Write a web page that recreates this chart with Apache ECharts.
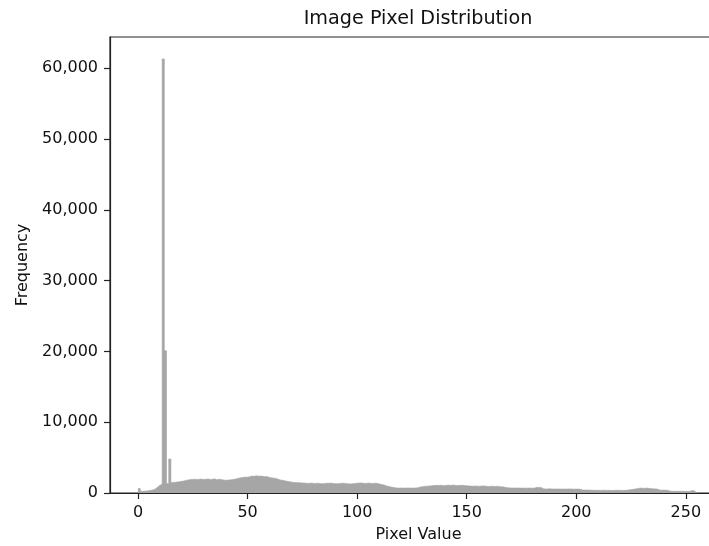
<!DOCTYPE html>
<html>
<head>
<meta charset="utf-8">
<script src="https://cdn.jsdelivr.net/npm/echarts@6/dist/echarts.min.js"></script>
<style>
html,body{margin:0;padding:0;background:#fff;}
#chart{width:709px;height:546px;}
</style>
</head>
<body>
<div id="chart"></div>
<script>
// Histogram bins: bin i covers pixel values [i, i+1)
var binStarts = [];
for (var b = 0; b < 256; b++) binStarts.push(b);

var frequency = [
  620, 250, 260, 300, 320, 380, 450, 600, 850, 1100, 1250,
  61300, 20100, 1350, 4800,
  1500, 1520, 1560, 1600, 1650, 1700,
  1800, 1850, 1900, 1920, 1950, 1900, 1950, 1970, 1900, 1940,
  1980, 1900, 1950, 2000, 1880, 1950, 1900, 1850, 1800, 1820,
  1850, 1900, 1950, 2000, 2100, 2150, 2200, 2250, 2230,
  2300, 2400, 2350, 2450, 2380, 2400, 2350, 2300, 2320,
  2200, 2150, 2100, 2050,
  1950, 1850, 1800, 1720, 1650, 1600,
  1550, 1500, 1480, 1460, 1450, 1420, 1400,
  1380, 1350, 1400, 1360, 1330, 1380, 1350, 1300, 1340, 1380, 1360, 1400, 1350, 1330,
  1300, 1350, 1380, 1360, 1340, 1300, 1280, 1320, 1350, 1380, 1400, 1420, 1380, 1350,
  1400, 1380, 1350, 1380, 1360, 1300,
  1200, 1150, 1050,
  950, 880, 820, 760,
  720, 700, 710, 690, 700, 720, 700, 690, 710, 720,
  780, 850, 900, 940, 960, 990, 1020,
  1050, 1080, 1060, 1100, 1070, 1050, 1090, 1100, 1080, 1120, 1060, 1050, 1080, 1100, 1050, 1030, 1000,
  980, 960, 1000, 970, 950, 1000, 980, 950, 930, 960, 940, 920, 950, 900, 880, 850,
  760, 740, 720, 710, 720, 700, 710, 690, 700, 680, 700, 690, 680, 700,
  800, 780, 760,
  600, 580, 570, 590, 560, 570, 580, 560, 570, 550, 560, 570, 580, 560, 540, 550, 560, 520,
  430, 420, 410, 420, 400, 380, 390, 380, 370, 380, 390, 370, 380, 360, 370, 380, 390, 380, 370, 380, 400, 420,
  480, 520, 580, 620, 680, 700, 650, 700, 660, 620, 600, 580, 560,
  420, 400, 410, 390, 380,
  260, 250, 240, 250, 230, 240, 250, 240, 230, 240,
  350, 300,
  40, 0
];

var xTicks = [0, 50, 100, 150, 200, 250];
var yTicks = [0, 10000, 20000, 30000, 40000, 50000, 60000];

var chartTitle = 'Image Pixel Distribution';
var xName = 'Pixel Value';
var yName = 'Frequency';

// step outline: each bin drawn flat from its start to the next bin start
var seriesData = binStarts.map(function (s, i) { return [s, frequency[i]]; });
seriesData.push([256, 0]);

function fmt(v) {
  return String(Math.round(v)).replace(/\B(?=(\d{3})+(?!\d))/g, ',');
}

var font = 'DejaVu Sans';
var txt = '#111';
var axisCol = '#222';
var chart = echarts.init(document.getElementById('chart'), null, {renderer: 'canvas'});
chart.setOption({
  animation: false,
  backgroundColor: '#ffffff',
  grid: {
    left: 110, top: 37, width: 617, height: 456,
    show: true, borderColor: axisCol, borderWidth: 1.2,
    containLabel: false, outerBoundsMode: 'none'
  },
  graphic: [{
    type: 'text',
    x: 418, y: 19,
    style: {
      text: chartTitle, fill: txt, font: '19.2px "DejaVu Sans"',
      textAlign: 'center', textVerticalAlign: 'middle'
    }
  }],
  xAxis: {
    type: 'value', min: -12.8, max: 268.8,
    name: xName, nameLocation: 'middle', nameGap: 34,
    nameTextStyle: {fontFamily: font, fontSize: 16, color: txt},
    splitLine: {show: false},
    axisLine: {show: true, onZero: false, lineStyle: {color: axisCol, width: 1.2}},
    axisTick: {show: true, length: 6, customValues: xTicks, lineStyle: {color: axisCol, width: 1.2}},
    axisLabel: {customValues: xTicks, margin: 12, fontFamily: font, fontSize: 16, color: txt,
      formatter: function (v) { return String(v); }}
  },
  yAxis: {
    type: 'value', min: 0, max: 64400,
    name: yName, nameLocation: 'middle', nameGap: 78, nameRotate: 90,
    nameTextStyle: {fontFamily: font, fontSize: 16, color: txt},
    splitLine: {show: false},
    axisLine: {show: true, onZero: false, lineStyle: {color: axisCol, width: 1.2}},
    axisTick: {show: true, length: 6, customValues: yTicks, lineStyle: {color: axisCol, width: 1.2}},
    axisLabel: {customValues: yTicks, margin: 12, fontFamily: font, fontSize: 16, color: txt,
      formatter: fmt}
  },
  series: [{
    type: 'line',
    step: 'end',
    data: seriesData,
    symbol: 'none',
    clip: true,
    z: 1,
    lineStyle: {width: 0.6, color: '#a6a6a6'},
    areaStyle: {color: '#a6a6a6', opacity: 1, origin: 'start'}
  }]
});
</script>
</body>
</html>
